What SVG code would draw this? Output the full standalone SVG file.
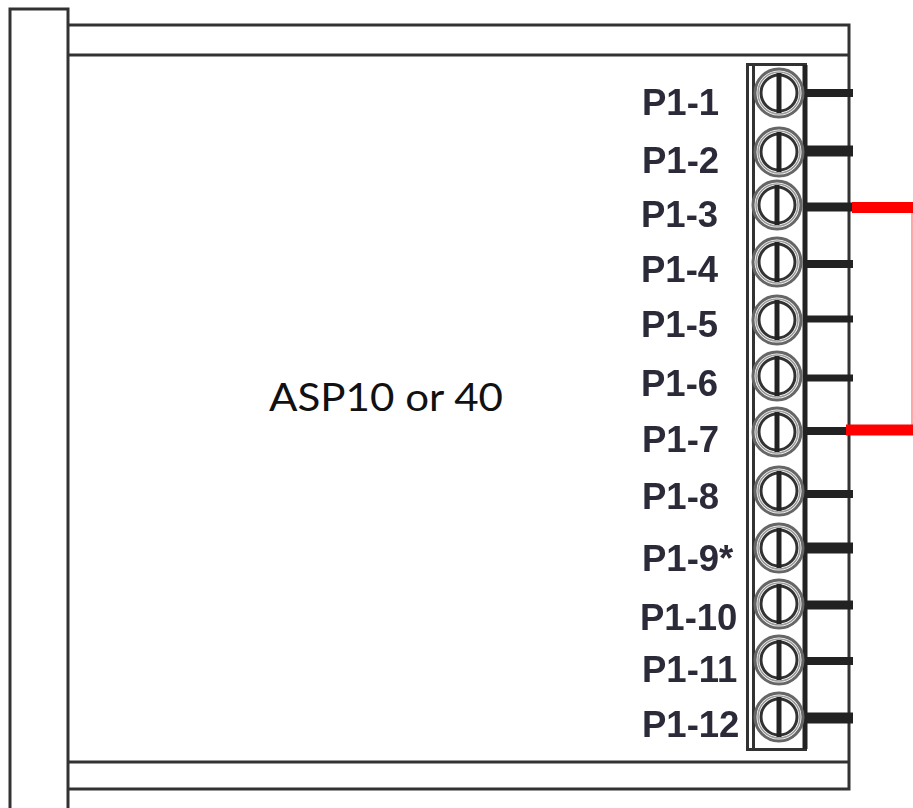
<svg xmlns="http://www.w3.org/2000/svg" width="913" height="808" viewBox="0 0 913 808">
<style>
.frame{fill:none;stroke:#333;stroke-width:3}
.stub{stroke:#222;fill:none}
.red{stroke:#f00;stroke-width:11;fill:none}
.lab{font:bold 36.500px "Liberation Sans",Arial,sans-serif;fill:#2b2b38;filter:url(#soft)}
.title{font:39px Lato,"Liberation Sans",sans-serif;fill:#111}
.r1{fill:#fff;stroke:#666;stroke-width:3}
.r3{fill:none;stroke:#999;stroke-width:1.500}
.r2{fill:#fff;stroke:#333;stroke-width:3}
.slot{stroke:#222;stroke-width:5;fill:none}
</style>
<defs>
<filter id="soft" x="-5%" y="-5%" width="110%" height="110%"><feGaussianBlur stdDeviation="0.7"/></filter>
<g id="screw"><circle class="r1" r="24"/><circle class="r3" r="21"/><circle class="r2" r="18"/><path class="slot" d="M0-20V20"/></g>
</defs>
<rect width="913" height="808" fill="#fff"/>
<g id="housing" filter="url(#soft)">
<path class="frame" d="M10 808V9H68V808"/>
<path class="frame" d="M68 25H849V789H68M68 55H849M68 762H849"/>
</g>
<g id="connectors" filter="url(#soft)">
<path class="stub" stroke-width="8" d="M806 93H853"/>
<path class="stub" stroke-width="11" d="M806 151H853"/>
<path class="stub" stroke-width="9" d="M806 207H853"/>
<path class="stub" stroke-width="8" d="M806 264H853"/>
<path class="stub" stroke-width="7" d="M806 319H853"/>
<path class="stub" stroke-width="7" d="M806 378H853"/>
<path class="stub" stroke-width="8" d="M806 431H853"/>
<path class="stub" stroke-width="8" d="M806 494H853"/>
<path class="stub" stroke-width="11" d="M806 548H853"/>
<path class="stub" stroke-width="9" d="M806 605H853"/>
<path class="stub" stroke-width="8" d="M806 661H853"/>
<path class="stub" stroke-width="11" d="M806 718H853"/>
</g>
<g id="terminal-block" filter="url(#soft)">
<rect x="747.500" y="64.500" width="58" height="685" fill="#fff" class="frame"/>
<path d="M753.500 65V749" class="frame" stroke-width="2"/>
<path d="M805 65V749" stroke="#222" stroke-width="5"/>
</g>
<g id="p1-1"><use href="#screw" x="779" y="93" filter="url(#soft)"/><text class="lab" x="642" y="115">P1-1</text></g>
<g id="p1-2"><use href="#screw" x="779" y="152" filter="url(#soft)"/><text class="lab" x="642" y="173">P1-2</text></g>
<g id="p1-3"><use href="#screw" x="777" y="205" filter="url(#soft)"/><text class="lab" x="641" y="227">P1-3</text></g>
<g id="p1-4"><use href="#screw" x="777" y="262" filter="url(#soft)"/><text class="lab" x="641" y="282">P1-4</text></g>
<g id="p1-5"><use href="#screw" x="777" y="320" filter="url(#soft)"/><text class="lab" x="641" y="337">P1-5</text></g>
<g id="p1-6"><use href="#screw" x="777" y="376" filter="url(#soft)"/><text class="lab" x="641" y="396">P1-6</text></g>
<g id="p1-7"><use href="#screw" x="777" y="432" filter="url(#soft)"/><text class="lab" x="642" y="452">P1-7</text></g>
<g id="p1-8"><use href="#screw" x="779" y="491" filter="url(#soft)"/><text class="lab" x="642" y="509">P1-8</text></g>
<g id="p1-9"><use href="#screw" x="779" y="548" filter="url(#soft)"/><text class="lab" x="642" y="571">P1-9*</text></g>
<g id="p1-10"><use href="#screw" x="779" y="604" filter="url(#soft)"/><text class="lab" x="640" y="630">P1-10</text></g>
<g id="p1-11"><use href="#screw" x="779" y="660" filter="url(#soft)"/><text class="lab" x="642" y="682">P1-11</text></g>
<g id="p1-12"><use href="#screw" x="779" y="717" filter="url(#soft)"/><text class="lab" x="642" y="737">P1-12</text></g>
<g id="jumper">
<path d="M912 207V430" stroke="#f88" stroke-width="1.500" fill="none"/>
<path class="red" d="M852 207.500H913"/>
<path class="red" d="M846 430H913"/>
</g>
<g id="label"><text class="title" x="269" y="411" textLength="234" lengthAdjust="spacingAndGlyphs">ASP10 or 40</text></g>
</svg>
